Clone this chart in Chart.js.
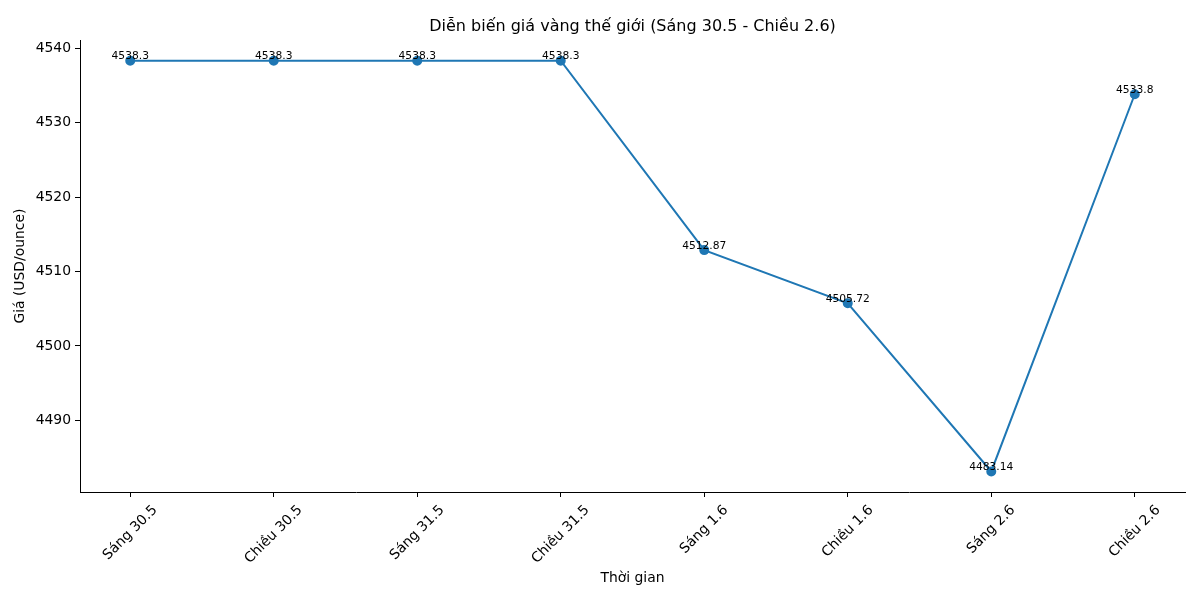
<!DOCTYPE html>
<html lang="vi">
<head>
<meta charset="UTF-8">
<title>Diễn biến giá vàng thế giới</title>
<script src="https://cdn.jsdelivr.net/npm/chart.js"></script>
<style>
  html, body { margin: 0; padding: 0; background: #fff; }
</style>
</head>
<body>
<canvas id="goldChart" width="1200" height="600"></canvas>
<script>
// data
var labels = ['Sáng 30.5', 'Chiều 30.5', 'Sáng 31.5', 'Chiều 31.5', 'Sáng 1.6', 'Chiều 1.6', 'Sáng 2.6', 'Chiều 2.6'];
var prices = [4538.3, 4538.3, 4538.3, 4538.3, 4512.87, 4505.72, 4483.14, 4533.8];
var yTicks = [4490, 4500, 4510, 4520, 4530, 4540];

var font = "'DejaVu Sans', sans-serif";
var blue = '#1f77b4';

// matplotlib style 5% margins
var lo = Math.min.apply(null, prices), hi = Math.max.apply(null, prices);
var yPad = (hi - lo) * 0.05;
var xPad = (labels.length - 1) * 0.05;

var points = prices.map(function (v, i) { return { x: i, y: v }; });

// value text above each point
var valueLabels = {
    id: 'valueLabels',
    afterDatasetsDraw: function (chart) {
        var ctx = chart.ctx;
        var meta = chart.getDatasetMeta(0);
        ctx.save();
        ctx.font = '10.7px ' + font;
        ctx.fillStyle = '#000';
        ctx.textAlign = 'center';
        ctx.textBaseline = 'bottom';
        meta.data.forEach(function (pt, i) {
            ctx.fillText(String(prices[i]), pt.x, pt.y + 1);
        });
        ctx.restore();
    }
};

// rotated x labels centred on the tick (chart.js right-aligns them)
var xLabels = {
    id: 'xLabels',
    afterDraw: function (chart) {
        var ctx = chart.ctx;
        var sx = chart.scales.x;
        var top = chart.chartArea.bottom + 10;
        var a = Math.PI / 4;
        ctx.save();
        ctx.font = '13.9px ' + font;
        ctx.fillStyle = '#000';
        ctx.textAlign = 'center';
        ctx.textBaseline = 'middle';
        sx.ticks.forEach(function (t, i) {
            var txt = labels[t.value];
            var w = ctx.measureText(txt).width;
            var h = 17;
            var half = (w + h) * Math.cos(a) / 2;
            ctx.save();
            ctx.translate(sx.getPixelForTick(i), top + half);
            ctx.rotate(-a);
            ctx.fillText(txt, 0, 0);
            ctx.restore();
        });
        ctx.restore();
    }
};

var ctx = document.getElementById('goldChart').getContext('2d');
var chart = new Chart(ctx, {
    type: 'line',
    data: {
        datasets: [{
            data: points,
            borderColor: blue,
            backgroundColor: blue,
            borderWidth: 2,
            pointRadius: 4,
            pointHoverRadius: 4,
            pointBackgroundColor: blue,
            pointBorderColor: blue,
            tension: 0,
            fill: false
        }]
    },
    options: {
        responsive: false,
        animation: false,
        layout: { padding: { left: 0, right: 15, top: 0, bottom: 0 } },
        plugins: {
            legend: { display: false },
            tooltip: { enabled: false },
            title: {
                display: true,
                text: 'Diễn biến giá vàng thế giới (Sáng 30.5 - Chiều 2.6)',
                fullSize: false,
                color: '#000',
                font: { family: font, size: 16, weight: 'normal' },
                padding: { top: 17, bottom: 4 }
            }
        },
        scales: {
            x: {
                type: 'linear',
                min: -xPad,
                max: labels.length - 1 + xPad,
                afterBuildTicks: function (s) {
                    s.ticks = labels.map(function (l, i) { return { value: i }; });
                },
                afterFit: function (s) { s.height = 108; },
                grid: { drawOnChartArea: false, drawTicks: true, tickLength: 5, color: '#000' },
                border: { display: true, color: '#000', width: 1 },
                ticks: {
                    autoSkip: false,
                    minRotation: 45,
                    maxRotation: 45,
                    color: 'rgba(0,0,0,0)',
                    font: { family: font, size: 13.9 },
                    callback: function (v) { return labels[v]; }
                },
                title: {
                    display: true,
                    text: 'Thời gian',
                    color: '#000',
                    font: { family: font, size: 13.9 },
                    padding: { top: 0, bottom: 13 }
                }
            },
            y: {
                min: lo - yPad,
                max: hi + yPad,
                afterBuildTicks: function (s) {
                    s.ticks = yTicks.map(function (v) { return { value: v }; });
                },
                afterFit: function (s) { s.width = 80; },
                grid: { drawOnChartArea: false, drawTicks: true, tickLength: 5, color: '#000' },
                border: { display: true, color: '#000', width: 1 },
                ticks: {
                    padding: 4,
                    color: '#000',
                    font: { family: font, size: 13.9 },
                    callback: function (v) { return String(v); }
                },
                title: {
                    display: true,
                    text: 'Giá (USD/ounce)',
                    color: '#000',
                    font: { family: font, size: 13.9 },
                    padding: { top: 12, bottom: 0 }
                }
            }
        }
    },
    plugins: [valueLabels, xLabels]
});
</script>
</body>
</html>
